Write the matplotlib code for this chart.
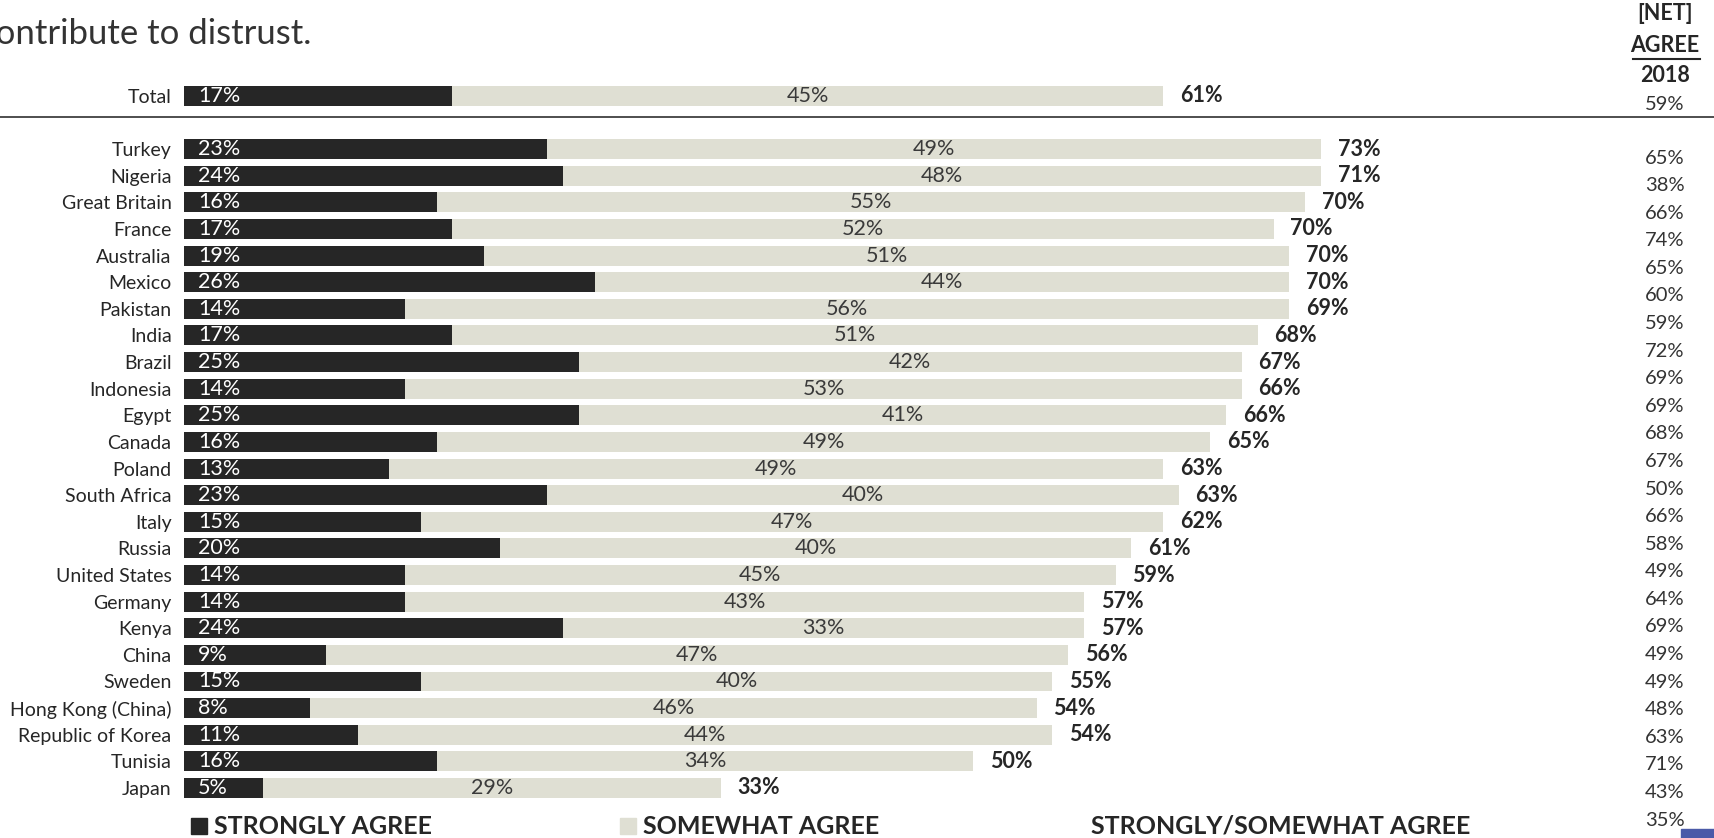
import matplotlib
matplotlib.use('Agg')
import matplotlib.pyplot as plt
from matplotlib.patches import Rectangle
from matplotlib.lines import Line2D

plt.rcParams['font.family'] = ['Lato', 'DejaVu Sans']

# Data
countries = ['Total', 'Turkey', 'Nigeria', 'Great Britain', 'France', 'Australia', 'Mexico',
             'Pakistan', 'India', 'Brazil', 'Indonesia', 'Egypt', 'Canada', 'Poland',
             'South Africa', 'Italy', 'Russia', 'United States', 'Germany', 'Kenya', 'China',
             'Sweden', 'Hong Kong (China)', 'Republic of Korea', 'Tunisia', 'Japan']
strongly = [17, 23, 24, 16, 17, 19, 26, 14, 17, 25, 14, 25, 16, 13, 23, 15, 20, 14, 14, 24, 9,
            15, 8, 11, 16, 5]
somewhat = [45, 49, 48, 55, 52, 51, 44, 56, 51, 42, 53, 41, 49, 49, 40, 47, 40, 45, 43, 33, 47,
            40, 46, 44, 34, 29]
net_agree = [61, 73, 71, 70, 70, 70, 70, 69, 68, 67, 66, 66, 65, 63, 63, 62, 61, 59, 57, 57, 56,
             55, 54, 54, 50, 33]
net_2018 = [59, 65, 38, 66, 74, 65, 60, 59, 72, 69, 69, 68, 67, 50, 66, 58, 49, 64, 69, 49, 49,
            48, 63, 71, 43, 35]

dark = '#262626'
light = '#dfdfd3'
txt = '#262626'

W, H = 1714, 838
fig = plt.figure(figsize=(W / 100, H / 100), dpi=100)
ax = fig.add_axes([184 / W, 0, (W - 184) / W, 1])

# row positions: Total sits two rows above the first country
ypos = [-2] + list(range(len(countries) - 1))
pitch = 26.6
ax.set_ylim(24 + (H - 788) / pitch, -149 / pitch)
ax.set_xlim(0, (W - 184) / 15.79)

bh = 0.75
ax.barh(ypos, strongly, height=bh, color=dark, zorder=2)
ax.barh(ypos, somewhat, left=strongly, height=bh, color=light, zorder=2)

for y, s, m, n in zip(ypos, strongly, somewhat, net_agree):
    ax.annotate(f'{s}%', (0, y), xytext=(10, 0), textcoords='offset points',
                ha='left', va='center', color='white', fontsize=15.5)
    ax.text(s + m / 2, y, f'{m}%', ha='center', va='center', color='#3a3a3a', fontsize=15.5)
    ax.annotate(f'{n}%', (s + m, y), xytext=(12, 0), textcoords='offset points',
                ha='left', va='center', color=txt, fontsize=15.5, fontweight='bold')

ax.set_yticks(ypos)
ax.set_yticklabels(countries, fontsize=14, color=txt)
ax.tick_params(axis='y', length=0, pad=9)
ax.set_xticks([])
for sp in ax.spines.values():
    sp.set_visible(False)
ax.patch.set_alpha(0)

# separator under Total
fig.add_artist(Line2D([0, 1], [1 - 117 / H, 1 - 117 / H], color='#404040', lw=1.3))

# title fragment (first line cut off)
fig.text(-21 / W, 1 - 34 / H, 'contribute to distrust.', fontsize=25, color='#333333',
         va='center', ha='left')

# 2018 column
cx = 1665 / W
fig.text(cx, 1 - 14 / H, '[NET]', ha='center', va='center', fontsize=15.5,
         fontweight='bold', color=txt)
fig.text(cx, 1 - 46 / H, 'AGREE', ha='center', va='center', fontsize=15.5,
         fontweight='bold', color=txt)
fig.add_artist(Line2D([1633 / W, 1700 / W], [1 - 59 / H, 1 - 59 / H], color=txt, lw=1.5))
fig.text(cx, 1 - 76 / H, '2018', ha='center', va='center', fontsize=15.5,
         fontweight='bold', color=txt)
fig.text(cx, 1 - 104 / H, f'{net_2018[0]}%', ha='center', va='center', fontsize=14.5,
         color='#333333')
for i, v in enumerate(net_2018[1:]):
    yy = 158 + i * (820 - 158) / 24
    fig.text(cx, 1 - yy / H, f'{v}%', ha='center', va='center', fontsize=14.5,
             color='#333333')

# legend
fig.add_artist(Rectangle((191 / W, 1 - 834 / H), 16 / W, 16 / H, color=dark,
                         transform=fig.transFigure))
fig.text(214 / W, 1 - 826 / H, 'STRONGLY AGREE', ha='left', va='center', fontsize=18,
         fontweight='bold', color=txt)
fig.add_artist(Rectangle((620 / W, 1 - 834 / H), 16 / W, 16 / H, color=light,
                         transform=fig.transFigure))
fig.text(643 / W, 1 - 826 / H, 'SOMEWHAT AGREE', ha='left', va='center', fontsize=18,
         fontweight='bold', color=txt)
fig.text(1091 / W, 1 - 826 / H, 'STRONGLY/SOMEWHAT AGREE', ha='left', va='center',
         fontsize=18, fontweight='bold', color=txt)

# blue corner mark
fig.add_artist(Rectangle((1681 / W, 0), 33 / W, 9 / H, color='#4a5aa8',
                         transform=fig.transFigure))

fig.savefig('out.png', dpi=100)
